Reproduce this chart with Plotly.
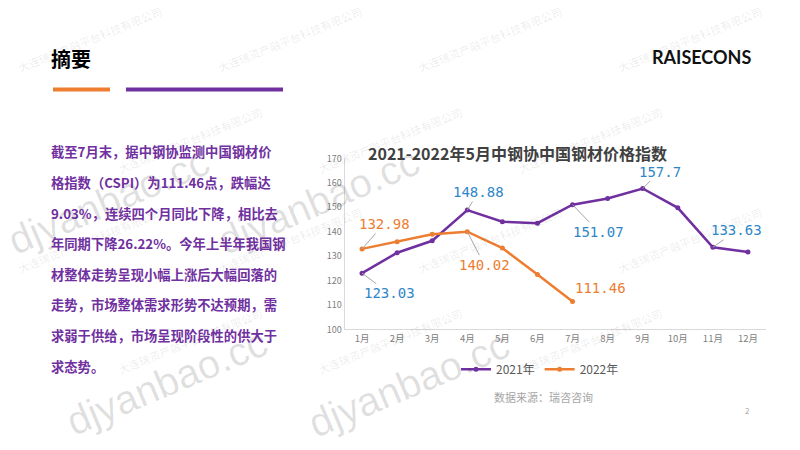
import plotly.graph_objects as go

# ---------------- data ----------------
months = ["1月", "2月", "3月", "4月", "5月", "6月", "7月", "8月", "9月", "10月", "11月", "12月"]
cspi_2021 = [123.03, 131.4, 136.3, 148.88, 144.1, 143.5, 151.07, 153.6, 157.7, 149.8, 133.63, 131.7]
cspi_2022 = [132.98, 135.9, 139.0, 140.02, 133.3, 122.5, 111.46]
series_names = ["2021年", "2022年"]
labeled_2021 = [0, 3, 6, 8, 10]
labeled_2022 = [0, 3, 6]
y_ticks = [100, 110, 120, 130, 140, 150, 160, 170]

chart_title = "2021-2022年5月中钢协中国钢材价格指数"
page_title = "摘要"
source_text = "数据来源：瑞咨咨询"
paragraph_lines = [
    "截至7月末，据中钢协监测中国钢材价",
    "格指数（CSPI）为111.46点，跌幅达",
    "9.03%，连续四个月同比下降，相比去",
    "年同期下降26.22%。今年上半年我国钢",
    "材整体走势呈现小幅上涨后大幅回落的",
    "走势，市场整体需求形势不达预期，需",
    "求弱于供给，市场呈现阶段性的供大于",
    "求态势。",
]

# ---------------- styles ----------------
W, H = 800, 450
PURPLE = "#7030A0"
ORANGE = "#ED7D31"
BLUE_LBL = "#2E86C8"
GREY_AX = "#D9D9D9"
GREY_TXT = "#808080"
CJK = "Noto Sans CJK SC, Noto Sans, sans-serif"
MONO = "DejaVu Sans Mono, Liberation Mono, monospace"

def px(x):
    return x / W

def py(y):
    return 1 - y / H

# label offsets (pixels, relative to the data point)
off_2021 = {0: (27, 20), 3: (11, -18), 6: (26, 27), 8: (17, -17), 10: (24, -17)}
off_2022 = {0: (22, -25), 3: (17, 33), 6: (28, -13)}

fig = go.Figure()

fig.add_trace(go.Scatter(
    x=months, y=cspi_2021, name=series_names[0], mode="lines+markers",
    line=dict(color=PURPLE, width=2.5), marker=dict(color=PURPLE, size=5),
))
fig.add_trace(go.Scatter(
    x=months[:len(cspi_2022)], y=cspi_2022, name=series_names[1], mode="lines+markers",
    line=dict(color=ORANGE, width=2.5), marker=dict(color=ORANGE, size=5),
))

annotations = []
shapes = []

# ---- watermarks (drawn first) ----
wm_small = "大连瑞资产融平台科技有限公司"
for k in range(5):
    cy = 33 + 103.5 * k
    shift = 100 if k % 2 else 0
    for j in range(-1, 5):
        cx = 90 + 200 * j + shift
        if cx - 72 < 0 or cx + 72 > W or cy - 32 < 0 or cy + 32 > H:
            continue
        annotations.append(dict(
            xref="paper", yref="paper", x=px(cx), y=py(cy), text=wm_small,
            showarrow=False, textangle=-22, xanchor="center", yanchor="middle",
            font=dict(family=CJK, size=11, color="rgba(0,0,0,0.09)"),
        ))
for cx, cy in [(108, 200), (318, 200), (166, 386), (408, 388)]:
    annotations.append(dict(
        xref="paper", yref="paper", x=px(cx), y=py(cy), text="djyanbao.cc",
        showarrow=False, textangle=-23, xanchor="center", yanchor="middle",
        font=dict(family="Liberation Sans, Arial, sans-serif", size=40, color="rgba(0,0,0,0.12)"),
    ))

# ---- page header ----
annotations.append(dict(
    xref="paper", yref="paper", x=px(49), y=py(53), text="<b>" + page_title + "</b>",
    showarrow=False, xanchor="left", yanchor="middle",
    font=dict(family=CJK, size=20, color="#000000"),
))
annotations.append(dict(
    xref="paper", yref="paper", x=px(701), y=py(52), text="<b>RAISECONS</b>",
    showarrow=False, xanchor="center", yanchor="middle",
    font=dict(family="Lato, Liberation Sans, sans-serif", size=18, color="#111111"),
))
shapes.append(dict(type="rect", xref="paper", yref="paper",
                   x0=px(53), x1=px(110), y0=py(87), y1=py(83),
                   fillcolor=ORANGE, line=dict(width=0)))
shapes.append(dict(type="rect", xref="paper", yref="paper",
                   x0=px(126), x1=px(283), y0=py(87), y1=py(83),
                   fillcolor=PURPLE, line=dict(width=0)))

# ---- paragraph ----
for i, line in enumerate(paragraph_lines):
    annotations.append(dict(
        xref="paper", yref="paper", x=px(49), y=py(149.3 + 31.5 * i),
        text="<b>" + line + "</b>", showarrow=False, xanchor="left", yanchor="middle",
        font=dict(family=CJK, size=13.3, color=PURPLE),
    ))

# ---- chart title, source, page number ----
annotations.append(dict(
    xref="paper", yref="paper", x=px(517), y=py(150), text="<b>" + chart_title + "</b>",
    showarrow=False, xanchor="center", yanchor="middle",
    font=dict(family=CJK, size=16, color="#404040"),
))
annotations.append(dict(
    xref="paper", yref="paper", x=px(543), y=py(402), text=source_text,
    showarrow=False, xanchor="center", yanchor="middle",
    font=dict(family=CJK, size=11, color="#A6A6A6"),
))
annotations.append(dict(
    xref="paper", yref="paper", x=px(747), y=py(415), text="2",
    showarrow=False, xanchor="center", yanchor="middle",
    font=dict(family=CJK, size=8, color="#A6A6A6"),
))

# ---- data labels with leader lines ----
def add_labels(values, idxs, offs, color, hide_leader=()):
    for i in idxs:
        ax, ay = offs[i]
        annotations.append(dict(
            x=months[i], y=values[i], xref="x", yref="y",
            text=f"{values[i]:g}", showarrow=True, arrowhead=0, arrowwidth=1,
            arrowcolor="rgba(0,0,0,0)" if i in hide_leader else "#A6A6A6",
            ax=ax, ay=ay, xanchor="center", yanchor="middle",
            font=dict(family=MONO, size=14, color=color),
        ))

add_labels(cspi_2021, labeled_2021, off_2021, BLUE_LBL)
add_labels(cspi_2022, labeled_2022, off_2022, ORANGE, hide_leader=(6,))

fig.update_layout(
    width=W, height=H,
    margin=dict(l=0, r=0, t=0, b=0),
    paper_bgcolor="white", plot_bgcolor="white",
    showlegend=True,
    legend=dict(orientation="h", x=px(540), y=py(373), xanchor="center", yanchor="middle",
                font=dict(family=CJK, size=12, color="#595959"),
                bgcolor="rgba(0,0,0,0)", itemwidth=30),
    xaxis=dict(domain=[px(344.5), px(765.5)], type="category", range=[-0.5, 11.5],
               showline=True, linecolor=GREY_AX, linewidth=1, showgrid=False,
               ticks="", tickfont=dict(family=CJK, size=9.5, color=GREY_TXT)),
    yaxis=dict(domain=[py(332), py(156)], range=[100, 170], tickvals=y_ticks,
               showline=True, linecolor=GREY_AX, linewidth=1, showgrid=False,
               zeroline=False, ticks="", tickfont=dict(family=CJK, size=9, color=GREY_TXT)),
    annotations=annotations,
    shapes=shapes,
)

fig.write_html("out.html")
